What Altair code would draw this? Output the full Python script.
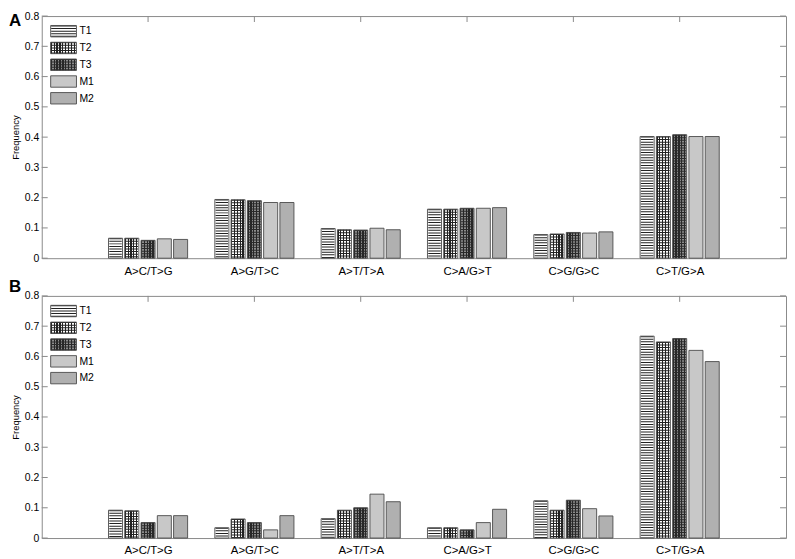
import json
import altair as alt
import pandas as pd

categories = ["A>C/T>G", "A>G/T>C", "A>T/T>A", "C>A/G>T", "C>G/G>C", "C>T/G>A"]
series = ["T1", "T2", "T3", "M1", "M2"]

# Panel A values
a_T1 = [0.066, 0.194, 0.098, 0.162, 0.078, 0.402]
a_T2 = [0.066, 0.193, 0.094, 0.162, 0.080, 0.402]
a_T3 = [0.059, 0.190, 0.093, 0.165, 0.085, 0.408]
a_M1 = [0.064, 0.184, 0.099, 0.165, 0.083, 0.402]
a_M2 = [0.062, 0.184, 0.094, 0.167, 0.087, 0.402]

# Panel B values
b_T1 = [0.092, 0.034, 0.064, 0.034, 0.123, 0.667]
b_T2 = [0.090, 0.063, 0.092, 0.034, 0.092, 0.648]
b_T3 = [0.051, 0.051, 0.100, 0.027, 0.125, 0.659]
b_M1 = [0.074, 0.027, 0.145, 0.051, 0.097, 0.620]
b_M2 = [0.074, 0.074, 0.120, 0.095, 0.073, 0.583]

y_ticks = [0, 0.1, 0.2, 0.3, 0.4, 0.5, 0.6, 0.7, 0.8]
panel_letters = ["A", "B"]

W = 750
H = 244
FONT = "Liberation Sans"
EDGE = "#4a4a4a"
FRAME = "#8a8a8a"


def stripes(light, dark, n, duty=0.45):
    stops = []
    for i in range(n):
        a = i / n
        b = (i + duty) / n
        c = (i + 1) / n
        stops += [
            {"offset": a, "color": dark},
            {"offset": b, "color": dark},
            {"offset": b, "color": light},
            {"offset": c, "color": light},
        ]
    return {"gradient": "linear", "x1": 0, "y1": 0, "x2": 1, "y2": 0, "stops": stops}


def style(k, n):
    return [
        ("white", "#222222"),
        (stripes("white", "#222222", n), "#222222"),
        (stripes("#8c8c8c", "#262626", n, 0.5), "#2a2a2a"),
        ("#c8c8c8", None),
        ("#b0b0b0", None),
    ][k]


def tidy(vals):
    rows = []
    for si, (s, v) in enumerate(zip(series, vals)):
        for ci, (c, val) in enumerate(zip(categories, v)):
            rows.append({"cat": c, "ci": ci + 1, "ser": s, "si": si, "value": val})
    return pd.DataFrame(rows)


label_expr = json.dumps(categories) + "[datum.value - 1]"

XS = alt.Scale(domain=[0, 7], nice=False, zero=False)
YS = alt.Scale(domain=[0, 0.8], nice=False)
AX = alt.Axis(values=list(range(1, len(categories) + 1)), labelExpr=label_expr,
              ticks=False, domain=False, grid=False, title=None,
              labelPadding=7, labelFontSize=11.5)
AY = alt.Axis(values=y_ticks, format=".1~f", ticks=False, domain=False, grid=False,
              title="Frequency", labelPadding=3, titlePadding=4,
              labelFontSize=10.5, titleFontSize=9.5)


def X(f):
    return alt.X(f, scale=XS, axis=AX, title=None)


def Y(f):
    return alt.Y(f, scale=YS, axis=AY, title="Frequency")


def panel(vals, letter, letter_y):
    df = tidy(vals)
    base = alt.Chart(df).transform_calculate(
        xc="datum.ci + (datum.si - 2) * 0.153",
        x0="datum.ci + (datum.si - 2) * 0.153 - 0.066",
        x1="datum.ci + (datum.si - 2) * 0.153 + 0.066",
        zero="0",
    )

    layers = []
    for k in range(len(series)):
        fill, hatch = style(k, 5)
        sub = base.transform_filter(f"datum.si == {k}")
        layers.append(sub.mark_rect(fill=fill, strokeWidth=0).encode(
            x=X("x0:Q"), x2="x1:Q", y=Y("value:Q"), y2="zero:Q"))
        if hatch:
            layers.append(sub.mark_rule(stroke=hatch, strokeWidth=12.6,
                                        strokeDash=[1, 1.6], strokeCap="butt").encode(
                x=X("xc:Q"), y=Y("value:Q"), y2="zero:Q"))
    layers.append(base.mark_rect(fill="white", fillOpacity=0, stroke=EDGE, strokeWidth=0.9).encode(
        x=X("x0:Q"), x2="x1:Q", y=Y("value:Q"), y2="zero:Q"))

    # inward ticks (left, right, top)
    tdf = pd.DataFrame({"v": y_ticks})
    layers.append(alt.Chart(tdf).mark_rule(color=FRAME, strokeWidth=1).encode(
        y=Y("v:Q"), x=alt.value(0), x2=alt.value(6)))
    layers.append(alt.Chart(tdf).mark_rule(color=FRAME, strokeWidth=1).encode(
        y=Y("v:Q"), x=alt.value(W - 6), x2=alt.value(W)))
    cdf = pd.DataFrame({"ci": list(range(1, len(categories) + 1))})
    layers.append(alt.Chart(cdf).mark_rule(color=FRAME, strokeWidth=1).encode(
        x=X("ci:Q"), y=alt.value(0), y2=alt.value(6)))

    # legend
    ldf = pd.DataFrame({"s": series, "k": list(range(len(series)))})
    for k in range(len(series)):
        top = 9.5 + 16.9 * k
        fill, hatch = style(k, 9)
        sub = alt.Chart(ldf).transform_filter(f"datum.k == {k}")
        layers.append(sub.mark_rect(fill=fill, strokeWidth=0).encode(
            x=alt.value(9), x2=alt.value(35), y=alt.value(top), y2=alt.value(top + 11.5)))
        if hatch:
            layers.append(sub.mark_rule(stroke=hatch, strokeWidth=25,
                                        strokeDash=[1, 1.6], strokeCap="butt").encode(
                x=alt.value(22), y=alt.value(top), y2=alt.value(top + 11.5)))
        layers.append(sub.mark_rect(fill="white", fillOpacity=0, stroke=EDGE, strokeWidth=0.9).encode(
            x=alt.value(9), x2=alt.value(35), y=alt.value(top), y2=alt.value(top + 11.5)))
        layers.append(sub.mark_text(align="left", baseline="middle", fontSize=10.5,
                                    font=FONT, color="black").encode(
            text="s:N", x=alt.value(38), y=alt.value(top + 6)))

    layers.append(alt.Chart(pd.DataFrame({"t": [letter]})).mark_text(
        align="left", baseline="top", fontSize=17, fontWeight="bold", font=FONT, color="black"
    ).encode(text="t:N", x=alt.value(-33), y=alt.value(letter_y)))

    return alt.layer(*layers).properties(width=W, height=H)


panel_a = panel([a_T1, a_T2, a_T3, a_M1, a_M2], panel_letters[0], -3)
panel_b = panel([b_T1, b_T2, b_T3, b_M1, b_M2], panel_letters[1], -17)

chart = alt.vconcat(panel_a, panel_b, spacing=0).properties(
    padding=0, background="white"
).configure_view(
    stroke=FRAME, strokeWidth=1
).configure_axis(
    labelFont=FONT, titleFont=FONT, labelColor="black", titleColor="black",
    titleFontWeight="normal"
)

chart.save("out.html", embed_options={"renderer": "svg", "actions": False})
